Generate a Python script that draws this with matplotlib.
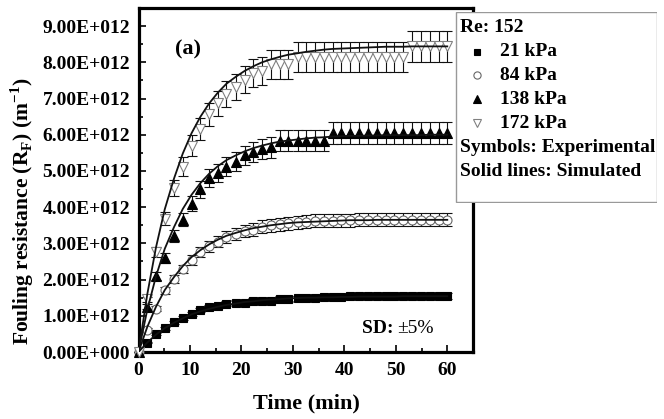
import matplotlib.pyplot as plt
from matplotlib.patches import Rectangle

# time (min) of each measurement
time_min = [0.0, 1.7, 3.4, 5.1, 6.9, 8.6, 10.3, 12.0, 13.7, 15.4, 17.1, 18.9,
            20.6, 22.3, 24.0, 25.7, 27.4, 29.1, 30.9, 32.6, 34.3, 36.0, 37.7, 39.4,
            41.1, 42.9, 44.6, 46.3, 48.0, 49.7, 51.4, 53.1, 54.9, 56.6, 58.3, 60.0]

# experimental fouling resistance, units of 1e12 m^-1
exp_21 = [0, 0.26, 0.49, 0.65, 0.82, 0.94, 1.06, 1.16, 1.23, 1.27, 1.33, 1.36,
          1.36, 1.41, 1.41, 1.42, 1.46, 1.46, 1.48, 1.50, 1.50, 1.52, 1.52, 1.53,
          1.54, 1.54, 1.54, 1.54, 1.54, 1.54, 1.54, 1.54, 1.54, 1.54, 1.54, 1.54]
exp_84 = [0, 0.62, 1.20, 1.70, 2.02, 2.29, 2.54, 2.76, 2.92, 3.05, 3.17, 3.27,
          3.33, 3.38, 3.46, 3.50, 3.53, 3.56, 3.58, 3.60, 3.62, 3.63, 3.63, 3.64,
          3.64, 3.65, 3.65, 3.65, 3.65, 3.65, 3.65, 3.65, 3.65, 3.65, 3.65, 3.65]
exp_138 = [0, 1.25, 2.10, 2.60, 3.20, 3.65, 4.10, 4.49, 4.80, 4.95, 5.12, 5.25,
           5.43, 5.52, 5.61, 5.65, 5.83, 5.83, 5.83, 5.83, 5.83, 5.83, 6.04, 6.04,
           6.04, 6.04, 6.04, 6.04, 6.04, 6.04, 6.04, 6.04, 6.04, 6.04, 6.04, 6.04]
exp_172 = [0, 1.45, 2.75, 3.68, 4.53, 5.12, 5.70, 6.15, 6.56, 6.87, 7.12, 7.32,
           7.52, 7.71, 7.75, 7.95, 7.95, 7.95, 8.15, 8.15, 8.15, 8.15, 8.15, 8.15,
           8.15, 8.15, 8.15, 8.15, 8.15, 8.15, 8.15, 8.44, 8.44, 8.44, 8.44, 8.44]

# simulated curves, units of 1e12 m^-1
sim_21 = [0, 0.26, 0.48, 0.66, 0.81, 0.93, 1.04, 1.12, 1.19, 1.25, 1.30, 1.34,
          1.38, 1.40, 1.43, 1.45, 1.46, 1.48, 1.49, 1.50, 1.50, 1.51, 1.51, 1.52,
          1.52, 1.53, 1.53, 1.53, 1.53, 1.53, 1.54, 1.54, 1.54, 1.54, 1.54, 1.54]
sim_84 = [0, 0.69, 1.25, 1.71, 2.07, 2.37, 2.62, 2.81, 2.97, 3.10, 3.21, 3.29,
          3.36, 3.42, 3.46, 3.50, 3.53, 3.56, 3.58, 3.59, 3.60, 3.61, 3.62, 3.63,
          3.64, 3.64, 3.64, 3.65, 3.65, 3.65, 3.65, 3.65, 3.65, 3.65, 3.65, 3.65]
sim_138 = [0, 1.16, 2.09, 2.85, 3.45, 3.95, 4.34, 4.66, 4.92, 5.13, 5.30, 5.43,
           5.54, 5.63, 5.70, 5.76, 5.81, 5.84, 5.87, 5.90, 5.92, 5.93, 5.95, 5.96,
           5.97, 5.97, 5.98, 5.98, 5.99, 5.99, 5.99, 5.99, 5.99, 6.00, 6.00, 6.00]
sim_172 = [0, 1.59, 2.89, 3.94, 4.79, 5.48, 6.04, 6.49, 6.86, 7.16, 7.41, 7.60,
           7.76, 7.89, 8.00, 8.08, 8.15, 8.21, 8.25, 8.29, 8.32, 8.35, 8.37, 8.38,
           8.39, 8.40, 8.41, 8.42, 8.43, 8.43, 8.43, 8.44, 8.44, 8.44, 8.44, 8.44]

sd_frac = 0.05
series_labels = ['21 kPa', '84 kPa', '138 kPa', '172 kPa']
ytick_vals = [0, 1, 2, 3, 4, 5, 6, 7, 8, 9]
ytick_labels = ['0.00E+000', '1.00E+012', '2.00E+012', '3.00E+012', '4.00E+012',
                '5.00E+012', '6.00E+012', '7.00E+012', '8.00E+012', '9.00E+012']
xtick_vals = [0, 10, 20, 30, 40, 50, 60]

plt.rcParams['font.family'] = ['Liberation Serif', 'DejaVu Serif']
plt.rcParams['font.weight'] = 'bold'
plt.rcParams['mathtext.fontset'] = 'custom'
plt.rcParams['mathtext.rm'] = 'Liberation Serif:bold'
plt.rcParams['mathtext.bf'] = 'Liberation Serif:bold'

W, H = 664, 419
fig = plt.figure(figsize=(W / 100, H / 100), dpi=100)
ax = fig.add_axes([138.5 / W, 1 - 352 / H, (473 - 138.5) / W, (352 - 8) / H])

scale = 1e12
styles = [
    (exp_21, sim_21, dict(marker='s', ms=5.2, mfc='k', mec='k', mew=0.8)),
    (exp_84, sim_84, dict(marker='o', ms=6.5, mfc='white', mec='#666666', mew=0.8)),
    (exp_138, sim_138, dict(marker='^', ms=7.5, mfc='k', mec='k', mew=0.8)),
    (exp_172, sim_172, dict(marker='v', ms=7.5, mfc='white', mec='#808080', mew=0.8)),
]
for exp, sim, st in styles:
    yv = [v * scale for v in exp]
    err = [v * sd_frac for v in yv]
    ax.errorbar(time_min, yv, yerr=err, fmt='none', ecolor='#111111',
                elinewidth=0.8, capsize=3.6, capthick=0.8, zorder=2, clip_on=False)
    ax.plot(time_min, yv, ls='none', zorder=3, clip_on=False, **st)
    ax.plot(time_min, [v * scale for v in sim], color='#111111', lw=1.3, zorder=4)

ax.set_xlim(0, 65)
ax.set_ylim(0, 9.25 * scale)
ax.set_xticks(xtick_vals)
ax.set_xticks([5, 15, 25, 35, 45, 55, 65], minor=True)
ax.set_yticks([v * scale for v in ytick_vals])
ax.set_yticklabels(ytick_labels)
ax.set_yticks([(v + 0.5) * scale for v in ytick_vals], minor=True)
ax.tick_params(which='both', direction='in', width=1.2, labelsize=14,
               top=False, right=False)
ax.tick_params(which='major', length=5)
ax.tick_params(which='minor', length=3)
ax.tick_params(axis='x', pad=7)
ax.tick_params(axis='y', pad=6)
for sp in ax.spines.values():
    sp.set_linewidth(2.3)

fig.text(306 / W, 1 - 403 / H, 'Time (min)', ha='center', va='center',
         fontsize=16, fontweight='bold')
fig.text(22 / W, 1 - 211 / H,
         r'Fouling resistance (R$_\mathregular{F}$) (m$^\mathregular{-1}$)',
         ha='center', va='center', rotation=90, fontsize=15.5, fontweight='bold')

ax.text(9.6, 8.35 * scale, '(a)', fontsize=16, fontweight='bold',
        ha='center', va='center')
ax.text(43.5, 0.65 * scale, 'SD: ', fontsize=14, fontweight='bold',
        ha='left', va='center')
ax.text(50.2, 0.65 * scale, '\u00b15%', fontsize=14, fontweight='normal',
        ha='left', va='center')

# legend box drawn in pixel-like coordinates
lx0, ly0, lw, lh = 455, 12, 202, 191
lax = fig.add_axes([lx0 / W, 1 - (ly0 + lh) / H, lw / W, lh / H])
lax.set_xlim(0, lw)
lax.set_ylim(lh, 0)
lax.axis('off')
lax.add_patch(Rectangle((0.5, 0.5), lw - 1, lh - 1, facecolor='white',
                        edgecolor='#999999', lw=1.0))
row_y = [16, 40, 63, 87, 111, 135, 160]
lax.text(5, row_y[0], 'Re: 152', fontsize=14, fontweight='bold', va='center')
for i, (lab, (_, _, st)) in enumerate(zip(series_labels, styles)):
    leg_st = dict(st)
    leg_st['ms'] = st['ms'] * 0.8
    lax.plot([22], [row_y[i + 1]], ls='none', **leg_st)
    lax.text(45, row_y[i + 1], lab, fontsize=14, fontweight='bold', va='center')
lax.text(5, row_y[5], 'Symbols: Experimental', fontsize=14, fontweight='bold', va='center')
lax.text(5, row_y[6], 'Solid lines: Simulated', fontsize=14, fontweight='bold', va='center')

fig.savefig('out.png', dpi=100)
